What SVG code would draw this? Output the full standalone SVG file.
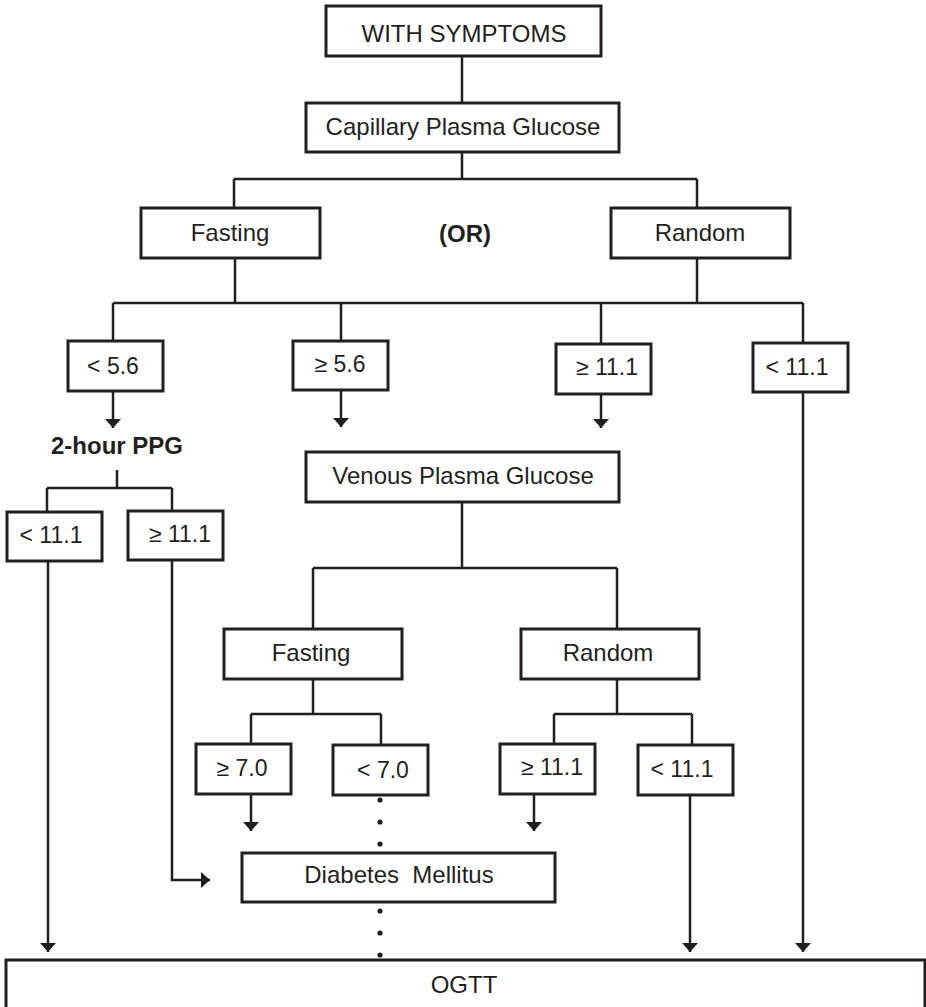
<svg xmlns="http://www.w3.org/2000/svg" width="926" height="1007" viewBox="0 0 926 1007">
  <style>
    .box { fill: #ffffff; stroke: #231f20; stroke-width: 3; }
    .lbl { font-family: "Liberation Sans", Arial, sans-serif; font-size: 24px; fill: #231f20; text-anchor: middle; }
    .num { font-size: 23px; }
    .bold { font-weight: bold; }
    .wire { fill: none; stroke: #231f20; stroke-width: 2.5; }
    .arrow { fill: none; stroke: #231f20; stroke-width: 2.5; marker-end: url(#head); }
    .dot { fill: #231f20; }
  </style>
  <defs>
    <marker id="head" viewBox="0 0 9 16" refX="9" refY="8" markerWidth="9" markerHeight="16" markerUnits="userSpaceOnUse" orient="auto">
      <path d="M0,0 L9,8 L0,16 z" fill="#231f20"/>
    </marker>
  </defs>

  <rect width="926" height="1007" fill="#ffffff"/>

  <!-- connectors -->
  <g id="connectors">
    <path class="wire" d="M462,56 V103"/>
    <path class="wire" d="M462,152 V179 M234,179 H697 M234,179 V208 M697,179 V208"/>
    <path class="wire" d="M235,258 V303 M697,258 V303 M113,303 H803 M113,303 V341 M341,303 V341 M601,303 V344 M803,303 V343"/>
    <path class="arrow" d="M113,391 V428"/>
    <path class="arrow" d="M341,390 V427"/>
    <path class="arrow" d="M601,394 V428"/>
    <path class="arrow" d="M803,392 V952"/>
    <path class="wire" d="M117,470 V488 M47,488 H172 M47,488 V512 M172,488 V511"/>
    <path class="arrow" d="M48,561 V952"/>
    <path class="arrow" d="M172,560 V880 H210"/>
    <path class="wire" d="M462,502 V568 M313,568 H617 M313,568 V629 M617,568 V629"/>
    <path class="wire" d="M313,679 V714 M251,714 H381 M251,714 V744 M381,714 V745"/>
    <path class="wire" d="M617,679 V714 M554,714 H692 M554,714 V744 M692,714 V745"/>
    <path class="arrow" d="M251,794 V831"/>
    <path class="arrow" d="M534,794 V831"/>
    <path class="arrow" d="M690,795 V952"/>
    <circle class="dot" cx="380" cy="800" r="2.6"/>
    <circle class="dot" cx="380" cy="822" r="2.6"/>
    <circle class="dot" cx="380" cy="844" r="2.6"/>
    <circle class="dot" cx="380" cy="911" r="2.6"/>
    <circle class="dot" cx="380" cy="933" r="2.6"/>
    <circle class="dot" cx="380" cy="955" r="2.6"/>
  </g>

  <g id="with-symptoms">
    <rect class="box" x="326" y="6" width="275" height="50"/>
    <text class="lbl" x="464" y="42">WITH SYMPTOMS</text>
  </g>
  <g id="capillary">
    <rect class="box" x="306" y="103" width="313" height="49"/>
    <text class="lbl" x="463" y="135">Capillary Plasma Glucose</text>
  </g>
  <g id="cap-fasting">
    <rect class="box" x="141" y="208" width="179" height="50"/>
    <text class="lbl" x="230" y="241">Fasting</text>
  </g>
  <g id="or-label">
    <text class="lbl bold" x="465" y="242">(OR)</text>
  </g>
  <g id="cap-random">
    <rect class="box" x="611" y="208" width="179" height="50"/>
    <text class="lbl" x="700" y="241">Random</text>
  </g>
  <g id="cap-fasting-low">
    <rect class="box" x="68" y="341" width="95" height="50"/>
    <text class="lbl num" x="113" y="374">&lt; 5.6</text>
  </g>
  <g id="cap-fasting-high">
    <rect class="box" x="293" y="341" width="95" height="49"/>
    <text class="lbl num" x="340" y="372">≥ 5.6</text>
  </g>
  <g id="cap-random-high">
    <rect class="box" x="556" y="344" width="95" height="50"/>
    <text class="lbl num" x="607" y="375">≥ 11.1</text>
  </g>
  <g id="cap-random-low">
    <rect class="box" x="753" y="343" width="95" height="49"/>
    <text class="lbl num" x="797" y="375">&lt; 11.1</text>
  </g>
  <g id="ppg">
    <text class="lbl bold" x="117" y="454">2-hour PPG</text>
  </g>
  <g id="ppg-low">
    <rect class="box" x="7" y="512" width="95" height="49"/>
    <text class="lbl num" x="51" y="543">&lt; 11.1</text>
  </g>
  <g id="ppg-high">
    <rect class="box" x="128" y="511" width="95" height="49"/>
    <text class="lbl num" x="180" y="542">≥ 11.1</text>
  </g>
  <g id="venous">
    <rect class="box" x="306" y="452" width="313" height="50"/>
    <text class="lbl" x="463" y="484">Venous Plasma Glucose</text>
  </g>
  <g id="ven-fasting">
    <rect class="box" x="224" y="629" width="178" height="50"/>
    <text class="lbl" x="311" y="661">Fasting</text>
  </g>
  <g id="ven-random">
    <rect class="box" x="521" y="629" width="178" height="50"/>
    <text class="lbl" x="608" y="661">Random</text>
  </g>
  <g id="ven-fasting-high">
    <rect class="box" x="196" y="744" width="95" height="50"/>
    <text class="lbl num" x="242" y="776">≥ 7.0</text>
  </g>
  <g id="ven-fasting-low">
    <rect class="box" x="333" y="745" width="95" height="50"/>
    <text class="lbl num" x="383" y="778">&lt; 7.0</text>
  </g>
  <g id="ven-random-high">
    <rect class="box" x="500" y="744" width="95" height="50"/>
    <text class="lbl num" x="552" y="775">≥ 11.1</text>
  </g>
  <g id="ven-random-low">
    <rect class="box" x="638" y="745" width="95" height="50"/>
    <text class="lbl num" x="682" y="777">&lt; 11.1</text>
  </g>
  <g id="diabetes">
    <rect class="box" x="242" y="853" width="313" height="49"/>
    <text class="lbl" x="399" y="883" xml:space="preserve">Diabetes  Mellitus</text>
  </g>
  <g id="ogtt">
    <rect class="box" x="6" y="960" width="919" height="60"/>
    <text class="lbl" x="464" y="993">OGTT</text>
  </g>
</svg>
